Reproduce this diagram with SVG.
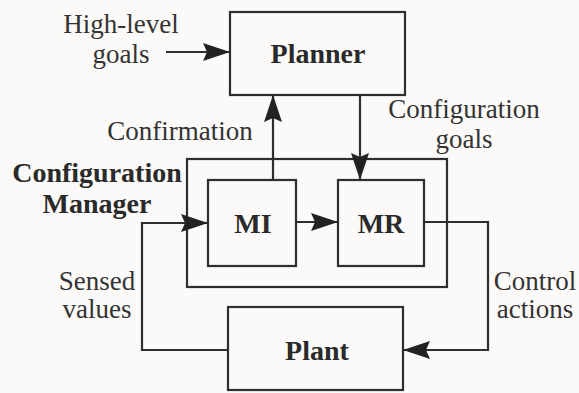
<svg xmlns="http://www.w3.org/2000/svg" width="579" height="393" viewBox="0 0 579 393">
<defs>
<style>
.box{fill:none;stroke:#2e2e2e;stroke-width:2.2}
.wire{fill:none;stroke:#2e2e2e;stroke-width:2.2}
</style>
<marker id="ah" markerUnits="userSpaceOnUse" markerWidth="30" markerHeight="20" refX="27" refY="9" orient="auto">
<path d="M0,0 L27,9 L0,18 L4,9 z" fill="#222"/>
</marker>
</defs>
<rect width="579" height="393" fill="#fbfaf8"/>
<g id="planner">
<rect class="box" x="230" y="12" width="175" height="83"/>
<text x="318" y="63" style="font-family:'Liberation Serif','Times New Roman',serif;font-size:28px;font-weight:bold" fill="#2a2a2a" text-anchor="middle">Planner</text>
</g>
<g id="config-manager">
<rect class="box" x="187" y="159" width="260" height="128"/>
<text x="97" y="182" style="font-family:'Liberation Serif','Times New Roman',serif;font-size:28px;font-weight:bold" fill="#2a2a2a" text-anchor="middle">Configuration</text>
<text x="97" y="213" style="font-family:'Liberation Serif','Times New Roman',serif;font-size:28px;font-weight:bold" fill="#2a2a2a" text-anchor="middle">Manager</text>
</g>
<g id="mi">
<rect class="box" x="208" y="180" width="88" height="86"/>
<text x="253" y="233" style="font-family:'Liberation Serif','Times New Roman',serif;font-size:28px;font-weight:bold" fill="#2a2a2a" text-anchor="middle">MI</text>
</g>
<g id="mr">
<rect class="box" x="338" y="180" width="86" height="86"/>
<text x="381" y="233" style="font-family:'Liberation Serif','Times New Roman',serif;font-size:28px;font-weight:bold" fill="#2a2a2a" text-anchor="middle">MR</text>
</g>
<g id="plant">
<rect class="box" x="228" y="307" width="175" height="83"/>
<text x="317" y="360" style="font-family:'Liberation Serif','Times New Roman',serif;font-size:28px;font-weight:bold" fill="#2a2a2a" text-anchor="middle">Plant</text>
</g>
<g id="labels">
<text x="121" y="33" style="font-family:'Liberation Serif','Times New Roman',serif;font-size:27px" fill="#333" text-anchor="middle">High-level</text>
<text x="121" y="63" style="font-family:'Liberation Serif','Times New Roman',serif;font-size:27px" fill="#333" text-anchor="middle">goals</text>
<text x="180" y="140" style="font-family:'Liberation Serif','Times New Roman',serif;font-size:27px" fill="#333" text-anchor="middle">Confirmation</text>
<text x="464" y="118" style="font-family:'Liberation Serif','Times New Roman',serif;font-size:27px" fill="#333" text-anchor="middle">Configuration</text>
<text x="464" y="148" style="font-family:'Liberation Serif','Times New Roman',serif;font-size:27px" fill="#333" text-anchor="middle">goals</text>
<text x="97" y="290" style="font-family:'Liberation Serif','Times New Roman',serif;font-size:27px" fill="#333" text-anchor="middle">Sensed</text>
<text x="97" y="318" style="font-family:'Liberation Serif','Times New Roman',serif;font-size:27px" fill="#333" text-anchor="middle">values</text>
<text x="535" y="290" style="font-family:'Liberation Serif','Times New Roman',serif;font-size:27px" fill="#333" text-anchor="middle">Control</text>
<text x="535" y="318" style="font-family:'Liberation Serif','Times New Roman',serif;font-size:27px" fill="#333" text-anchor="middle">actions</text>
</g>
<g id="connectors">
<path class="wire" d="M166,52 L230,52" marker-end="url(#ah)"/>
<path class="wire" d="M273,180 L273,95" marker-end="url(#ah)"/>
<path class="wire" d="M360,95 L360,180" marker-end="url(#ah)"/>
<path class="wire" d="M296,222 L338,222" marker-end="url(#ah)"/>
<path class="wire" d="M228,350 L142,350 L142,223 L208,223" marker-end="url(#ah)"/>
<path class="wire" d="M424,222 L488,222 L488,350 L403,350" marker-end="url(#ah)"/>
</g>
</svg>
